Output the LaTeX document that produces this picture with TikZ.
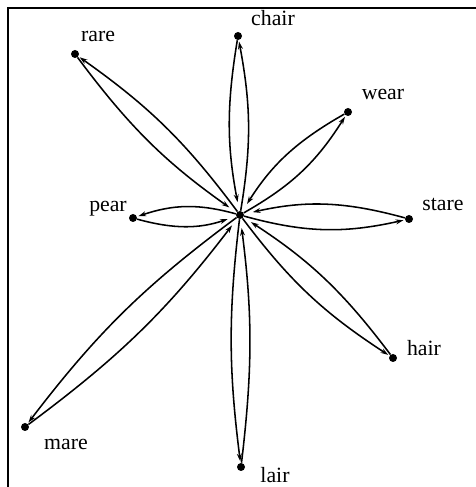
\documentclass[tikz,border=0pt]{standalone}
\usepackage{fontspec}
\setmainfont{Liberation Serif}
\usetikzlibrary{arrows.meta, positioning}

\tikzset{
  dot/.style={circle, fill=black, inner sep=0pt, minimum size=0.2cm},
  hub/.style={circle, fill=black, inner sep=0pt, minimum size=0.2cm},
  lab/.style={font=\fontsize{15.5}{17}\selectfont, inner sep=1pt},
  spoke/.style={line width=1.1pt, -{Stealth[length=5.5pt, width=3.5pt]}}
}

\begin{document}
\begin{tikzpicture}

% canvas 476x487 px, 40 px = 1 cm
\useasboundingbox (0,0) rectangle (11.9,12.175);

% Frame (only left and top edges show)
\draw[line width=1.4pt] (0.2,0) -- (0.2,11.975) -- (11.9,11.975);

% Centre word
\node[hub] (c) at (6.0,6.8) {};

% Neighbours
\node[dot] (chair) at (5.95,11.275) {};
\node[dot] (rare)  at (1.875,10.825) {};
\node[dot] (wear)  at (8.7,9.375) {};
\node[dot] (pear)  at (3.325,6.725) {};
\node[dot] (stare) at (10.225,6.7) {};
\node[dot] (hair)  at (9.825,3.225) {};
\node[dot] (mare)  at (0.625,1.5) {};
\node[dot] (lair)  at (6.025,0.5) {};

% Labels
\node[lab] (chair-lab) at (6.825,11.725) {chair};
\node[lab] (rare-lab)  at (2.45,11.275)  {rare};
\node[lab] (wear-lab)  at (9.575,9.825)  {wear};
\node[lab] (pear-lab)  at (2.7,6.95)     {pear};
\node[lab] (stare-lab) at (11.075,7.075) {stare};
\node[lab] (hair-lab)  at (10.6,3.475)   {hair};
\node[lab] (mare-lab)  at (1.65,1.075)   {mare};
\node[lab] (lair-lab)  at (6.875,0.3)    {lair};

% Out and back along each spoke
\foreach \n/\b in {chair/10, rare/9, wear/14, pear/17, stare/14, hair/10, mare/8, lair/7} {
  \draw[spoke, shorten >=1pt] (c) to[bend right=\b] (\n);
  \draw[spoke, shorten >=0.22cm] (\n) to[bend right=\b] (c);
}

\end{tikzpicture}
\end{document}
